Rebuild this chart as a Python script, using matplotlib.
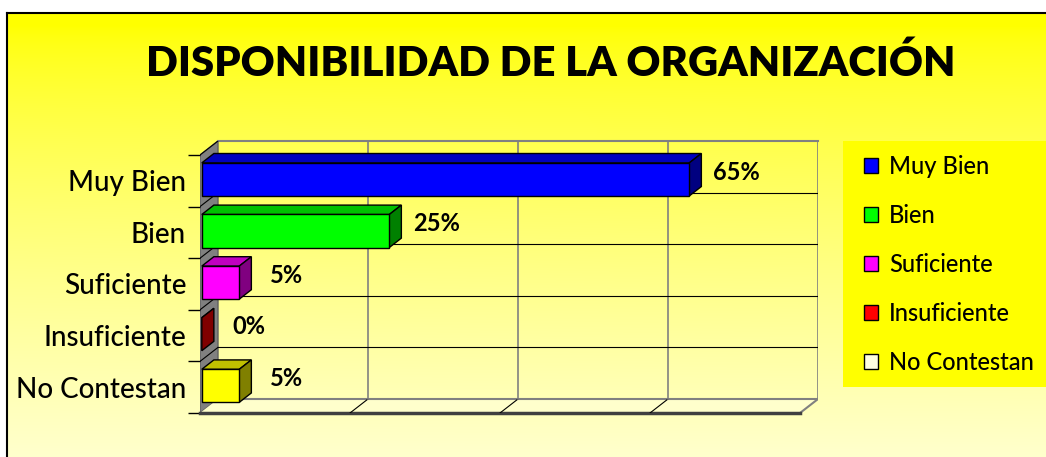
import numpy as np
import matplotlib.pyplot as plt
from matplotlib.patches import Polygon, Rectangle, Patch

categorias = ['Muy Bien', 'Bien', 'Suficiente', 'Insuficiente', 'No Contestan']
valores = [65, 25, 5, 0, 5]
etiquetas = ['65%', '25%', '5%', '0%', '5%']
titulo = 'DISPONIBILIDAD DE LA ORGANIZACIÓN'

# caras: frente, arriba, lado
col_frente = ['#0000FF', '#00FF00', '#FF00FF', '#FF0000', '#FFFF00']
col_arriba = ['#0000C0', '#00C000', '#C000C0', '#C00000', '#C0C000']
col_lado = ['#000080', '#008000', '#800080', '#800000', '#808000']
col_leyenda = ['#0000FF', '#00FF00', '#FF00FF', '#FF0000', '#FFFFE0']

W, H = 1046, 457
fig = plt.figure(figsize=(W / 100, H / 100), dpi=100)
fig.patch.set_facecolor('white')

# fondo degradado
bg = fig.add_axes([0, 0, 1, 1], zorder=-5)
bg.set_xlim(0, W)
bg.set_ylim(H, 0)
bg.axis('off')
yy, xx = np.mgrid[0:H, 0:W]
t = np.clip((yy - 13) / 444.0, 0, 1)
s = xx / W
azul = 205 * t ** 0.7 * (1 - 0.12 * s * (1 - t))
img = np.ones((H, W, 3))
img[..., 2] = azul / 255.0
bg.imshow(img, extent=(7, W, H, 13), aspect='auto', zorder=0)
bg.plot([7, W], [13, 13], color='black', lw=1.5, zorder=2)
bg.plot([7, 7], [13, H], color='black', lw=1.5, zorder=2)

# caja de leyenda
bg.add_patch(Rectangle((843, 141), 210, 246, facecolor='#FFFF00', edgecolor='none', zorder=1))

fig.text(551 / W, 1 - 63 / H, titulo, ha='center', va='center',
         fontsize=30.1, fontweight='heavy', family='Lato', color='black')

# ejes del grafico (plano frontal 0-80, profundidad dx, dy)
dx, dy = 2.4, -14 / 51.6
ax = fig.add_axes([200 / W, 1 - 413 / H, 618 / W, 272 / H])
ax.set_facecolor('none')
ax.set_xlim(0, 80 + dx)
ax.set_ylim(4.5, -0.5 + dy)
for sp in ax.spines.values():
    sp.set_visible(False)
ax.set_xticks([])
n = len(categorias)
ax.set_yticks(range(n))
ax.set_yticklabels(categorias, family='Lato', fontsize=20, fontweight='medium')
ax.set_yticks(np.arange(n + 1) - 0.5, minor=True)
ax.tick_params(axis='y', which='major', length=0, pad=10)
ax.tick_params(axis='y', which='minor', length=9, width=1, color='black')

gris = '#808080'
# pared lateral
ax.add_patch(Polygon([(0, -0.5), (dx, -0.5 + dy), (dx, 4.5 + dy), (0, 4.5)],
                     closed=True, facecolor=gris, edgecolor='#606060', lw=1, zorder=1))
# piso
ax.add_patch(Polygon([(0, 4.5), (dx, 4.5 + dy), (80 + dx, 4.5 + dy), (80, 4.5)],
                     closed=True, facecolor='#FFFFCC', edgecolor='none', zorder=1))
ax.plot([dx, 80 + dx], [4.5 + dy, 4.5 + dy], color=gris, lw=1.5, zorder=2)
ax.plot([80 + dx, 80], [4.5 + dy, 4.5], color=gris, lw=1.5, zorder=2)
ax.plot([0, 80], [4.5, 4.5], color='#404040', lw=2.5, zorder=2, clip_on=False)
for g in [20, 40, 60]:
    ax.plot([g, g + dx], [4.5, 4.5 + dy], color='black', lw=0.8, zorder=2)
# pared del fondo
for g in [20, 40, 60, 80]:
    ax.plot([g + dx, g + dx], [-0.5 + dy, 4.5 + dy], color=gris, lw=1.2, zorder=2)
ax.plot([dx, 80 + dx], [-0.5 + dy, -0.5 + dy], color=gris, lw=1.5, zorder=2, clip_on=False)
for k in range(1, n):
    ax.plot([dx, 80 + dx], [k - 0.5 + dy, k - 0.5 + dy], color='black', lw=0.8, zorder=2)
for k in range(n):
    ax.plot([0, dx], [k - 0.5, k - 0.5 + dy], color='black', lw=0.8, zorder=2)

# barras 3D
d0, d1, h = 0.1, 0.77, 0.32
for i, v in enumerate(valores):
    x0, y0 = d0 * dx, d0 * dy
    x1, y1 = d1 * dx, d1 * dy
    arriba = [(x0, i - h + y0), (v + x0, i - h + y0), (v + x1, i - h + y1), (x1, i - h + y1)]
    lado = [(v + x0, i - h + y0), (v + x1, i - h + y1), (v + x1, i + h + y1), (v + x0, i + h + y0)]
    ax.add_patch(Polygon(arriba, closed=True, facecolor=col_arriba[i], edgecolor='black', lw=1, zorder=3))
    ax.add_patch(Polygon(lado, closed=True, facecolor=col_lado[i], edgecolor='black', lw=1, zorder=3))
    if v > 0:
        ax.add_patch(Rectangle((x0, i - h + y0), v, 2 * h, facecolor=col_frente[i],
                               edgecolor='black', lw=1, zorder=4))
    ax.text(v + 6.5, i - 0.17, etiquetas[i], ha='center', va='center',
            family='Lato', fontsize=17, fontweight='bold', color='black', zorder=5)

handles = [Patch(facecolor=c, edgecolor='black', lw=1) for c in col_leyenda]
fig.legend(handles, categorias, loc='upper left', bbox_to_anchor=(864 / W, 1 - 155 / H),
           frameon=False, prop={'family': 'Lato', 'size': 17, 'weight': 'medium'},
           handlelength=0.6, handleheight=0.6, handletextpad=0.45, labelspacing=1.1,
           borderaxespad=0, borderpad=0)

fig.savefig('out.png', dpi=100)
